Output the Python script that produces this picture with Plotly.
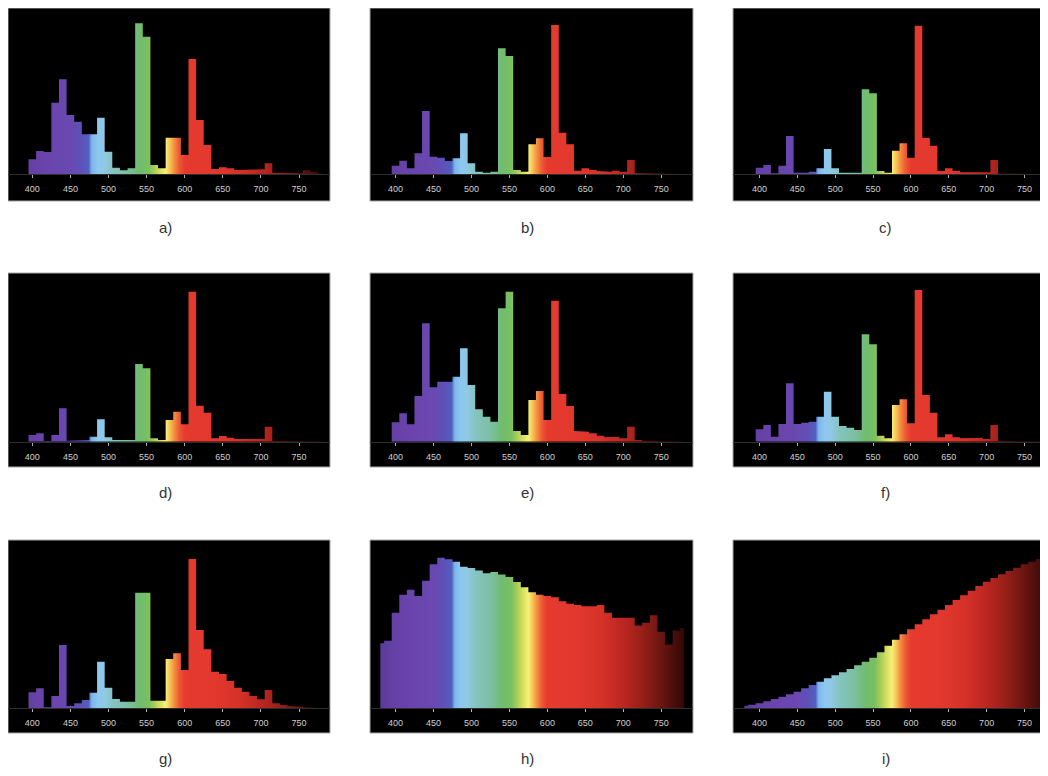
import plotly.graph_objects as go

# ---------------- data (relative spectral power) ----------------
WL = list(range(400, 790, 10))        # bin centres for panels a-g (nm)
WL_FULL = list(range(380, 790, 10))   # bin centres for panels h-i (nm)

spd_a = [45, 70, 67, 215, 285, 178, 158, 120, 120, 170,
         68, 20, 12, 18, 453, 413, 28, 18, 110, 110,
         58, 346, 163, 88, 16, 21, 18, 13, 13, 13,
         15, 33, 5, 3, 3, 4, 12, 8, 3]
spd_b = [26, 41, 18, 63, 190, 53, 50, 40, 48, 123,
         33, 8, 5, 8, 378, 355, 13, 8, 90, 108,
         52, 448, 125, 90, 11, 18, 13, 10, 8, 11,
         8, 43, 3, 2, 2, 2, 2, 2, 1]
spd_c = [20, 28, 3, 26, 115, 5, 5, 8, 18, 76,
         18, 5, 3, 5, 255, 243, 10, 5, 71, 93,
         50, 446, 110, 86, 10, 18, 11, 6, 6, 8,
         6, 43, 2, 2, 2, 2, 2, 2, 1]
spd_d = [20, 25, 2, 20, 100, 3, 3, 5, 15, 67,
         13, 5, 3, 5, 233, 220, 10, 5, 65, 90,
         52, 450, 108, 87, 10, 17, 12, 8, 8, 10,
         8, 45, 2, 2, 2, 2, 2, 2, 1]
spd_e = [58, 85, 52, 137, 355, 163, 180, 180, 195, 280,
         170, 97, 75, 60, 400, 450, 32, 20, 125, 152,
         65, 423, 143, 107, 32, 30, 25, 18, 13, 15,
         10, 45, 5, 2, 2, 2, 2, 2, 1]
spd_f = [37, 50, 15, 53, 175, 53, 57, 60, 75, 150,
         75, 47, 42, 35, 322, 292, 18, 10, 110, 127,
         55, 455, 140, 87, 13, 22, 13, 10, 10, 12,
         8, 50, 2, 2, 2, 2, 2, 2, 1]
spd_g = [48, 60, 3, 37, 190, 7, 15, 25, 47, 140,
         62, 28, 20, 20, 347, 347, 23, 23, 148, 165,
         115, 448, 235, 177, 110, 103, 82, 62, 50, 37,
         27, 55, 15, 10, 7, 5, 3, 2, 1]
spd_h = [51, 53, 75, 89, 93, 88, 100, 113, 118, 117,
         115, 111, 110, 108, 106, 107, 105, 103, 99, 95,
         91, 89, 88, 87, 84, 82, 81, 80, 80, 81,
         75, 71, 71, 71, 65, 67, 73, 60, 50, 61,
         63]
spd_i = [8, 11, 15, 21, 28, 35, 42, 50, 60, 70,
         80, 90, 99, 108, 118, 129, 140, 152, 168, 188,
         206, 222, 237, 252, 267, 282, 296, 310, 325, 339,
         353, 367, 380, 391, 402, 412, 422, 432, 440, 448,
         455]

TICKS = [400, 450, 500, 550, 600, 650, 700, 750]
LABELS = ["a)", "b)", "c)", "d)", "e)", "f)", "g)", "h)", "i)"]

# ---------------- styling / layout ----------------
OFF = 8                      # page body margin in the browser
W, H = 1040, 760
SPECTRUM = [
    (380, "#5a3a98"), (395, "#6440a4"), (420, "#6a44ac"), (450, "#6a48b2"),
    (465, "#5c52b8"), (474, "#5260c0"), (478, "#7cb6ea"), (486, "#8cc8f0"),
    (495, "#90c8e2"), (505, "#84c4c2"), (525, "#7cc0a2"), (540, "#70bc70"),
    (552, "#78c060"), (560, "#a8cc58"), (568, "#d8e060"), (575, "#f8f078"),
    (580, "#f8c858"), (586, "#f49040"), (593, "#ec5834"), (600, "#e63a2e"),
    (640, "#e2382e"), (670, "#d63228"), (700, "#bc2622"), (725, "#962018"),
    (752, "#661410"), (780, "#300806"),
]
colorscale = [[(w - 380) / 400.0, c] for w, c in SPECTRUM]

# page-pixel geometry of the panels (converted to figure pixels below)
cols = [dict(box=(8, 330), x400=32.3, x750=299.0),
        dict(box=(370, 693), x400=395.5, x750=661.3),
        dict(box=(733, 1046), x400=759.5, x750=1024.5)]
rows = [dict(box=(8, 201), base=174.3, label=227),
        dict(box=(273, 467), base=441.7, label=492),
        dict(box=(540, 733), base=708.3, label=758)]

panels = [
    (WL, spd_a, 499), (WL, spd_b, 499), (WL, spd_c, 499),
    (WL, spd_d, 506), (WL, spd_e, 506), (WL, spd_f, 506),
    (WL, spd_g, 505), (WL_FULL, spd_h, 132), (WL_FULL, spd_i, 505),
]


def steps(wl, vals, lo=380, hi=780):
    xs, ys = [], []
    for c, v in zip(wl, vals):
        xs += [max(c - 5, lo), min(c + 5, hi)]
        ys += [v, v]
    return xs, ys


def px(xp):
    return (xp - OFF) / W


def py(yp):
    return 1 - (yp - OFF) / H


fig = go.Figure()
shapes, annotations = [], []
layout_axes = {}

for k, (wl, vals, ymax) in enumerate(panels):
    r, c = divmod(k, 3)
    col, row = cols[c], rows[r]
    bl, br = col["box"]
    bt, bb = row["box"]
    scale = (col["x750"] - col["x400"]) / 350.0
    xlo = 400 - (col["x400"] - bl) / scale
    xhi = 400 + (br - col["x400"]) / scale
    idx = "" if k == 0 else str(k + 1)
    xs, ys = steps(wl, vals)
    fig.add_trace(go.Scatter(
        x=xs, y=ys, mode="lines", line=dict(width=0, color="rgba(0,0,0,0)"),
        fill="tozeroy",
        fillgradient=dict(type="horizontal", colorscale=colorscale, start=380, stop=780),
        hoverinfo="skip", showlegend=False,
        xaxis="x" + idx, yaxis="y" + idx,
    ))
    layout_axes["xaxis" + idx] = dict(
        domain=[px(bl), px(br)], range=[xlo, xhi], anchor="y" + idx,
        tickvals=TICKS, ticks="outside", ticklen=3, tickwidth=1, tickcolor="#b0b0b0",
        tickfont=dict(size=9, color="#cfcfcf", family="Liberation Sans, Arial"),
        ticklabelstandoff=3,
        showgrid=False, zeroline=False, showline=True, linecolor="#2e2e2e", linewidth=1,
        fixedrange=True,
    )
    layout_axes["yaxis" + idx] = dict(
        domain=[py(row["base"]), py(bt)], range=[0, ymax], anchor="x" + idx,
        visible=False, showgrid=False, zeroline=False, fixedrange=True,
    )
    shapes.append(dict(type="rect", xref="paper", yref="paper",
                       x0=px(bl), x1=px(br), y0=py(bb), y1=py(bt),
                       fillcolor="black", line=dict(color="#a8a8a8", width=1), layer="below"))
    annotations.append(dict(text=LABELS[k], xref="paper", yref="paper",
                            x=px((bl + br) / 2 - 4), y=py(row["label"]),
                            showarrow=False, xanchor="center", yanchor="middle",
                            font=dict(size=15, color="#333333", family="Liberation Sans, Arial")))

fig.update_layout(
    width=W, height=H, margin=dict(l=0, r=0, t=0, b=0),
    paper_bgcolor="white", plot_bgcolor="black",
    shapes=shapes, annotations=annotations, showlegend=False,
    **layout_axes,
)

fig.write_html("out.html")
